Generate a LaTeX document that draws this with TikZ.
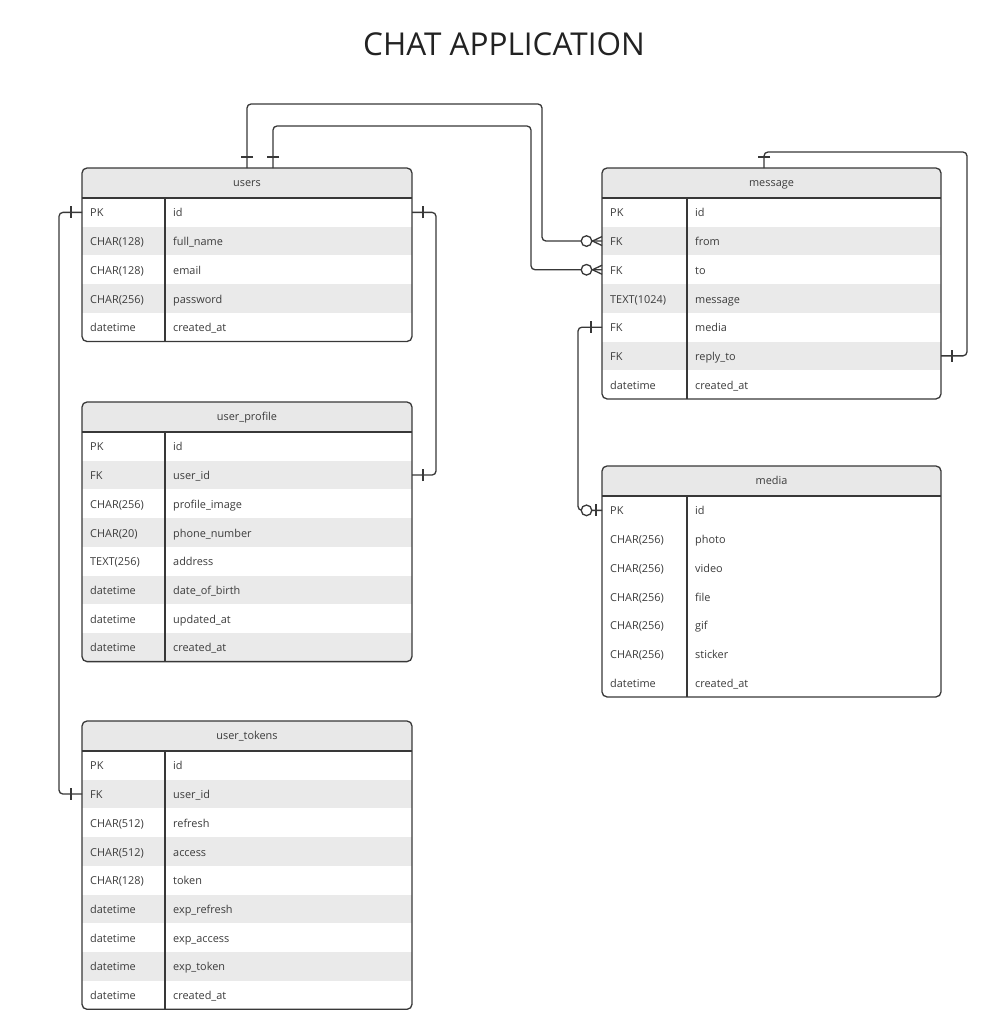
\documentclass[tikz,border=0pt]{standalone}
\usepackage{fontspec}
\setmainfont{Open Sans}
\usetikzlibrary{calc}

\definecolor{linecol}{HTML}{383838}
\definecolor{headfill}{HTML}{E8E8E8}
\definecolor{stripefill}{HTML}{EAEAEA}
\definecolor{textcol}{HTML}{3C3C3C}
\definecolor{titlecol}{HTML}{222222}

\tikzset{
  tableline/.style={draw=linecol, line width=1.3pt},
  conn/.style={draw=linecol, line width=1.3pt, rounded corners=4pt},
  markline/.style={draw=linecol, line width=1.3pt},
  headcell/.style={fill=headfill, inner sep=0pt, outer sep=0pt, minimum height=30,
    text=textcol, text height=6.4pt, text depth=0pt},
  rowcell/.style={inner sep=0pt, outer sep=0pt, minimum height=28.7},
  typetext/.style={anchor=base west, inner sep=0pt, text=textcol},
  nametext/.style={anchor=base west, inner sep=0pt, text=textcol},
  titletext/.style={text=titlecol, font=\fontsize{31.5}{36}\selectfont},
  % relationship ends, drawn pointing to the left
  onebar/.pic={\draw[markline] (-11,-6) -- (-11,6);},
  zeromany/.pic={
    \draw[markline] (0,-4.5) -- (-9.5,0) -- (0,4.5);
    \draw[markline, fill=white] (-15.5,0) circle (5.3);},
  zeroone/.pic={
    \draw[markline] (-6,-6) -- (-6,6);
    \draw[markline, fill=white] (-15.5,0) circle (5.3);}
}

% name, left, top, right, divider, rows, title, stripe, fields
\newcommand{\erdtable}[9]{%
  \pgfmathsetmacro\tabmid{(#2+#4)/2}
  \pgfmathsetmacro\tabbot{#3+30+#6*28.7}
  \begin{scope}
    \clip[rounded corners=5pt] (#2,#3) rectangle (#4,\tabbot);
    \node[headcell, minimum width=#4-#2] (#1) at (\tabmid,#3+15) {#7};
    \foreach \ty/\nm [count=\i] in {#9} {
      \ifodd\i \def\rowfill{white}\else \def\rowfill{#8}\fi
      \pgfmathsetmacro\rowy{#3+30+28.7*\i-14.35}
      \node[rowcell, fill=\rowfill, minimum width=#4-#2] (#1-\i) at (\tabmid,\rowy) {};
      \node[typetext] at (#2+8,\rowy+4.6) {\ty};
      \node[nametext] at (#5+8,\rowy+4.6) {\nm};
    }
  \end{scope}
  \draw[tableline] (#2,#3+30) -- (#4,#3+30);
  \draw[tableline] (#5,#3+30) -- (#5,\tabbot);
  \draw[tableline, rounded corners=5pt] (#2,#3) rectangle (#4,\tabbot);
}

\begin{document}
\begin{tikzpicture}[x=1pt, y=-1pt, font=\fontsize{10.9}{13}\selectfont]

	\useasboundingbox[fill=white] (0,0) rectangle (1004,1018);

	\node[titletext] (title) at (504,44) {CHAT APPLICATION};

	\erdtable{users}{82}{168}{412}{165}{5}{users}{stripefill}
	  {PK/id, CHAR(128)/full\_name, CHAR(128)/email, CHAR(256)/password, datetime/created\_at}
	\erdtable{profile}{82}{402}{412}{165}{8}{user\_profile}{stripefill}
	  {PK/id, FK/user\_id, CHAR(256)/profile\_image, CHAR(20)/phone\_number,
	   TEXT(256)/address, datetime/date\_of\_birth, datetime/updated\_at, datetime/created\_at}
	\erdtable{tokens}{82}{721}{412}{165}{9}{user\_tokens}{stripefill}
	  {PK/id, FK/user\_id, CHAR(512)/refresh, CHAR(512)/access, CHAR(128)/token,
	   datetime/exp\_refresh, datetime/exp\_access, datetime/exp\_token, datetime/created\_at}
	\erdtable{message}{602}{168}{941}{687}{7}{message}{stripefill}
	  {PK/id, FK/from, FK/to, TEXT(1024)/message, FK/media, FK/reply\_to, datetime/created\_at}
	\erdtable{media}{602}{466}{941}{687}{7}{media}{white}
	  {PK/id, CHAR(256)/photo, CHAR(256)/video, CHAR(256)/file, CHAR(256)/gif,
	   CHAR(256)/sticker, datetime/created\_at}

	% users -> message (from, to)
	\draw[conn] (users.north) -- ++(0,-64) -| ([xshift=-60]message-2.west) -- (message-2.west);
	\draw[conn] ([xshift=26]users.north) -- ++(0,-42) -| ([xshift=-71]message-3.west) -- (message-3.west);
	\pic[rotate=-90] at (users.north) {onebar};
	\pic[rotate=-90] at ([xshift=26]users.north) {onebar};
	\pic at (message-2.west) {zeromany};
	\pic at (message-3.west) {zeromany};

	% users -> user_profile
	\draw[conn] (users-1.east) -- ++(24,0) |- (profile-2.east);
	\pic[rotate=180] at (users-1.east) {onebar};
	\pic[rotate=180] at (profile-2.east) {onebar};

	% users -> user_tokens
	\draw[conn] (users-1.west) -- ++(-23,0) |- (tokens-2.west);
	\pic at (users-1.west) {onebar};
	\pic at (tokens-2.west) {onebar};

	% message -> media
	\draw[conn] (message-5.west) -- ++(-24,0) |- (media-1.west);
	\pic at (message-5.west) {onebar};
	\pic at (media-1.west) {zeroone};

	% message -> message (reply_to)
	\draw[conn] ([xshift=-7.5]message.north) -- ++(0,-16) -| ([xshift=26]message-6.east) -- (message-6.east);
	\pic[rotate=-90] at ([xshift=-7.5]message.north) {onebar};
	\pic[rotate=180] at (message-6.east) {onebar};

\end{tikzpicture}
\end{document}
